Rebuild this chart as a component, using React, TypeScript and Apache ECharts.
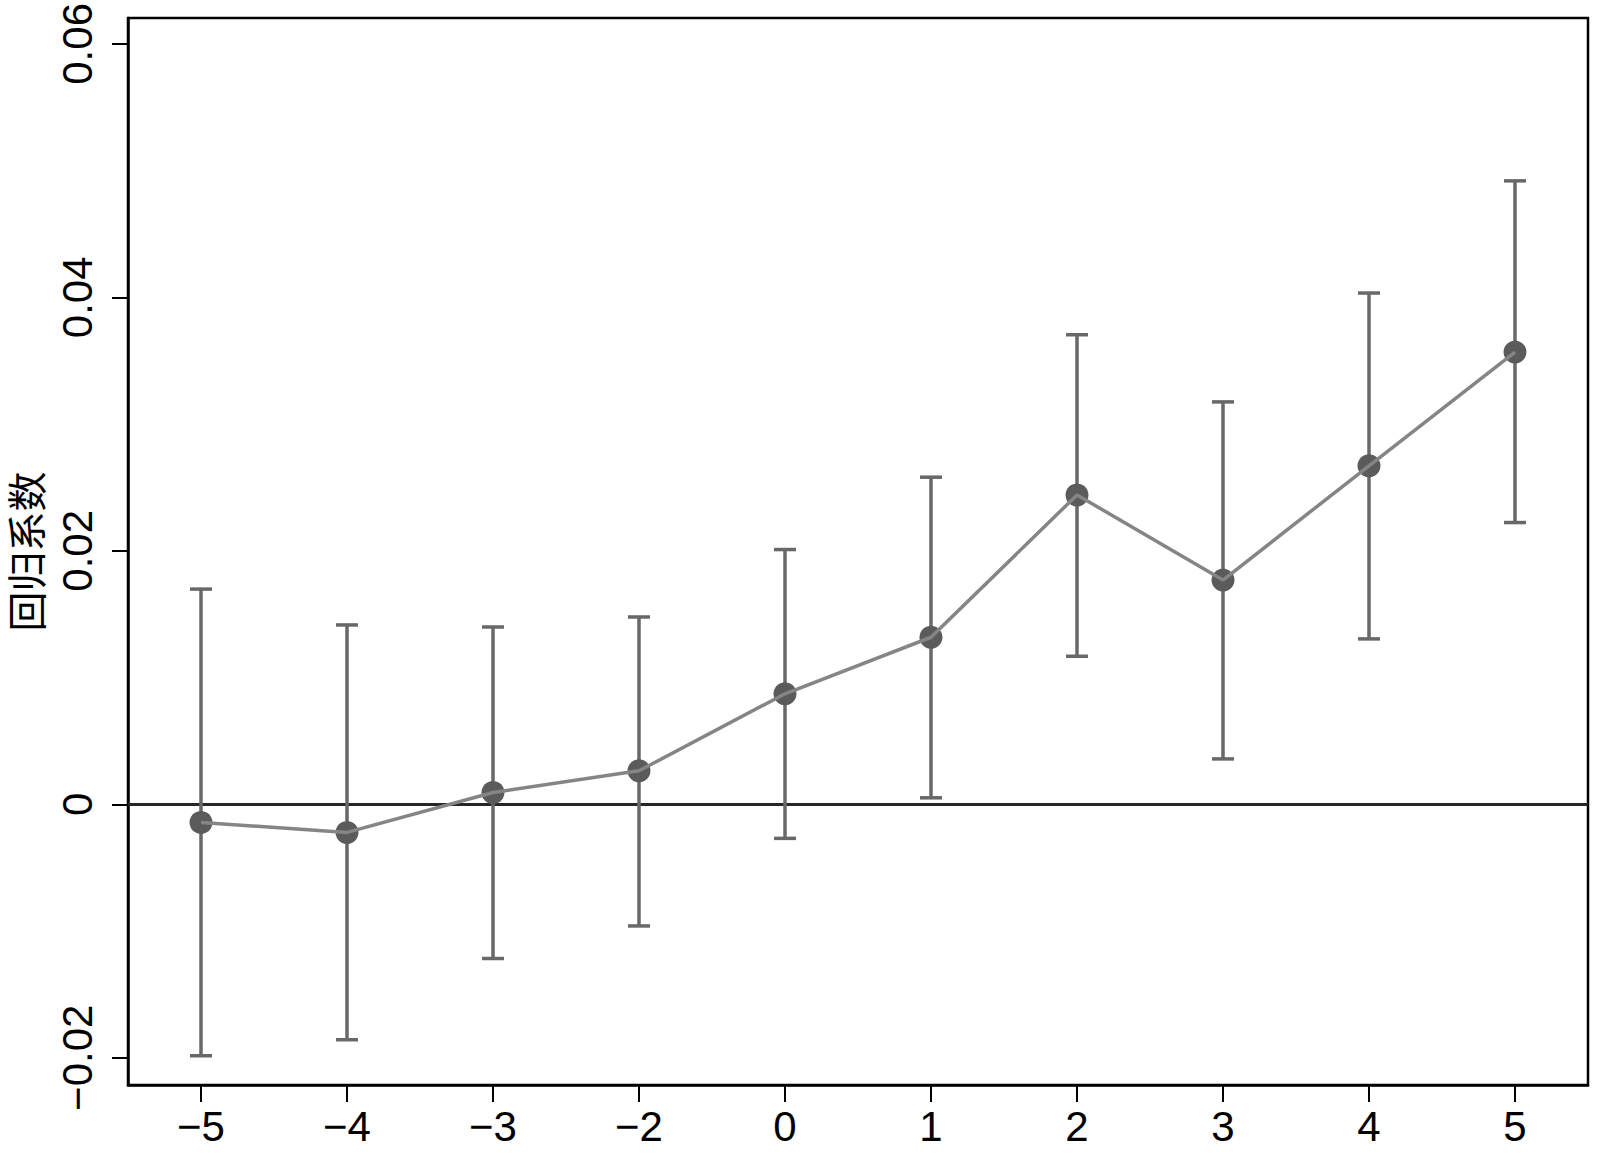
import React, { useEffect, useRef } from "react";
import * as echarts from "echarts";

const categories = ["−5", "−4", "−3", "−2", "0", "1", "2", "3", "4", "5"];
const coef = [-0.00143, -0.00222, 0.00093, 0.00264, 0.00872, 0.01318, 0.02441, 0.01769, 0.02671, 0.03568];
const lower = [-0.01984, -0.01858, -0.01217, -0.0096, -0.00269, 0.00051, 0.01168, 0.00358, 0.01305, 0.02223];
const upper = [0.01698, 0.01415, 0.01399, 0.01478, 0.0201, 0.02581, 0.03705, 0.03175, 0.04034, 0.04919];
const yTicks = [-0.02, 0, 0.02, 0.04, 0.06];
const yName = "回归系数";

const FONT = "'Liberation Sans', Arial, 'Noto Sans CJK SC', sans-serif";

export default function App() {
  const ref = useRef<HTMLDivElement>(null);
  useEffect(() => {
    if (!ref.current) return;
    const chart = echarts.init(ref.current, null, { renderer: "svg" });
    const errData = categories.map((_, i) => [i, lower[i], upper[i]]);
    chart.setOption({
      animation: false,
      backgroundColor: "#ffffff",
      grid: {
        left: 128,
        right: 12,
        top: 15,
        bottom: 80,
        show: true,
        borderColor: "#000",
        borderWidth: 2.5,
        backgroundColor: "transparent",
      },
      xAxis: {
        type: "category",
        data: categories,
        boundaryGap: true,
        axisLine: { show: true, onZero: false, lineStyle: { color: "#000", width: 2.5 } },
        axisTick: { show: true, alignWithLabel: true, length: 17, lineStyle: { color: "#000", width: 2 } },
        axisLabel: { color: "#000", fontSize: 42, fontFamily: FONT, margin: 20 },
        splitLine: { show: false },
      },
      yAxis: {
        type: "value",
        min: -0.02215,
        max: 0.06205,
        name: yName,
        nameLocation: "middle",
        nameGap: 80,
        nameTextStyle: { color: "#000", fontSize: 40, fontFamily: FONT },
        axisLine: { show: true, onZero: false, lineStyle: { color: "#000", width: 2.5 } },
        axisTick: { show: true, length: 16, customValues: yTicks, lineStyle: { color: "#000", width: 2 } },
        axisLabel: {
          color: "#000",
          fontSize: 42,
          fontFamily: FONT,
          rotate: 90,
          margin: 30,
          customValues: yTicks,
          formatter: (v: number) => {
            if (Math.abs(v) < 1e-9) return "0";
            const s = Math.abs(v).toFixed(2);
            return v < 0 ? "−" + s : s;
          },
        },
        splitLine: { show: false },
      },
      series: [
        {
          type: "custom",
          z: 3,
          data: errData,
          encode: { x: 0, y: [1, 2] },
          renderItem: (params: any, api: any) => {
            const i = api.value(0);
            const lo = api.coord([i, api.value(1)]);
            const hi = api.coord([i, api.value(2)]);
            const hw = 11;
            const style = { stroke: "#686868", lineWidth: 3.5, fill: "none" };
            return {
              type: "group",
              children: [
                { type: "line", shape: { x1: lo[0], y1: lo[1], x2: hi[0], y2: hi[1] }, style },
                { type: "line", shape: { x1: lo[0] - hw, y1: lo[1], x2: lo[0] + hw, y2: lo[1] }, style },
                { type: "line", shape: { x1: hi[0] - hw, y1: hi[1], x2: hi[0] + hw, y2: hi[1] }, style },
              ],
            };
          },
        },
        {
          type: "scatter",
          z: 4,
          data: coef,
          symbol: "circle",
          symbolSize: 23,
          itemStyle: { color: "#5b5b5b", opacity: 1 },
        },
        {
          type: "line",
          z: 5,
          data: coef,
          showSymbol: false,
          symbol: "none",
          lineStyle: { color: "#858585", width: 3.5 },
          markLine: {
            silent: true,
            symbol: "none",
            z: 1,
            label: { show: false },
            lineStyle: { color: "#262626", width: 3, type: "solid" },
            data: [{ yAxis: 0 }],
          },
        },
      ],
    });
    return () => chart.dispose();
  }, []);
  return (
    <div
      ref={ref}
      style={{ position: "absolute", left: 0, top: 0, width: 1600, height: 1165 }}
    />
  );
}
